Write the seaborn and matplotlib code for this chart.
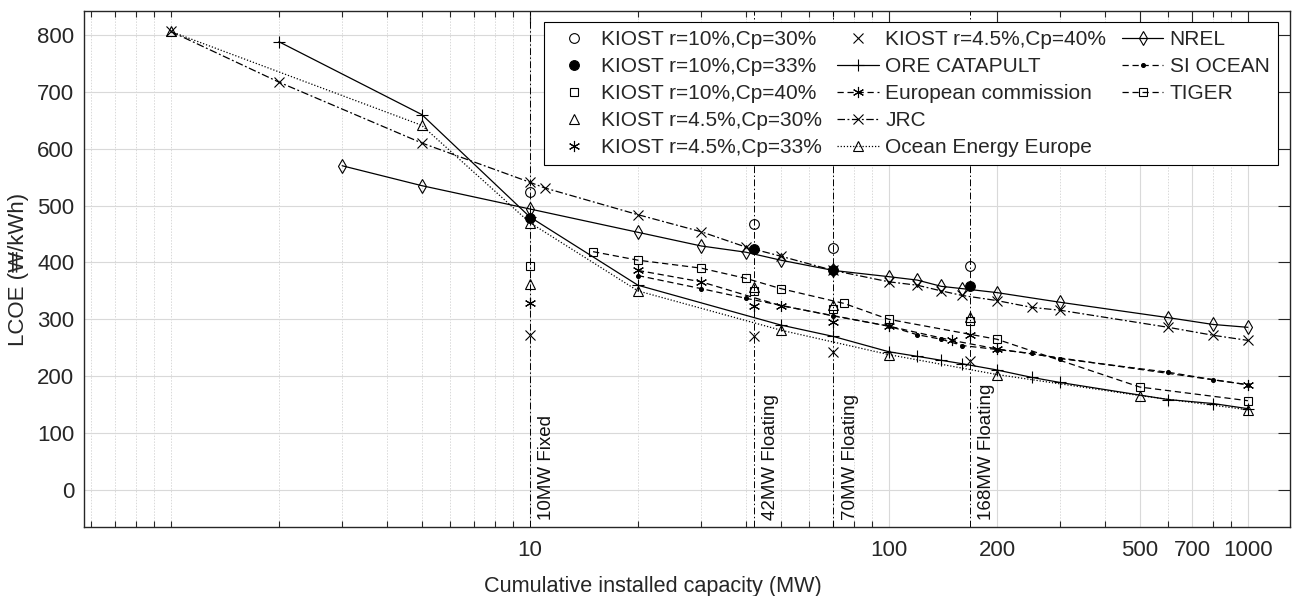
import numpy as np
import pandas as pd
import matplotlib
matplotlib.use("Agg")
import matplotlib.pyplot as plt
from matplotlib.lines import Line2D
from matplotlib.ticker import FixedLocator, LogLocator, NullFormatter, FixedFormatter
import seaborn as sns

# ---------------- data ----------------
kiost_x = [10, 42, 70, 168]
kiost_r10_cp30 = [524, 467, 425, 394]
kiost_r10_cp33 = [478, 424, 386, 358]
kiost_r10_cp40 = [393, 350, 318, 297]
kiost_r45_cp30 = [363, 357, 326, 305]
kiost_r45_cp33 = [328, 324, 295, 273]
kiost_r45_cp40 = [272, 270, 243, 226]

ore_x = [2, 5, 10, 20, 50, 70, 100, 120, 140, 160, 200, 250, 300, 600, 800, 1000]
ore_y = [788, 660, 480, 360, 290, 270, 243, 235, 228, 222, 211, 198, 189, 159, 152, 143]

ec_x = [20, 30, 50, 100, 150, 200, 1000]
ec_y = [386, 366, 324, 288, 263, 248, 185]

jrc_x = [1, 2, 5, 10, 11, 20, 30, 40, 50, 70, 100, 120, 140, 160, 200, 250, 300, 600, 800, 1000]
jrc_y = [806, 717, 610, 541, 531, 484, 454, 427, 411, 386, 366, 360, 350, 342, 333, 321, 316, 286, 272, 263]

oee_x = [1, 5, 10, 20, 50, 100, 200, 500, 1000]
oee_y = [806, 641, 470, 350, 281, 238, 203, 166, 141]

nrel_x = [3, 5, 10, 20, 30, 40, 50, 70, 100, 120, 140, 160, 200, 300, 600, 800, 1000]
nrel_y = [570, 535, 494, 453, 429, 418, 404, 386, 375, 369, 358, 354, 347, 330, 303, 291, 286]

si_x = [20, 30, 40, 70, 100, 120, 140, 160, 200, 250, 300, 600, 800, 1000]
si_y = [377, 354, 337, 306, 288, 273, 265, 254, 247, 240, 231, 207, 194, 185]

tiger_x = [15, 20, 30, 40, 50, 75, 100, 200, 500, 1000]
tiger_y = [419, 404, 390, 372, 354, 328, 300, 265, 181, 157]

site_x = [10, 42, 70, 168]
site_labels = ["10MW Fixed", "42MW Floating", "70MW Floating", "168MW Floating"]

x_ticks = [10, 100, 200, 500, 700, 1000]
x_tick_labels = ["10", "100", "200", "500", "700", "1000"]
y_ticks = [0, 100, 200, 300, 400, 500, 600, 700, 800]

# ---------------- style ----------------
sns.set_theme(style="white")
plt.rcParams["font.family"] = ["Liberation Sans", "DejaVu Sans"]
plt.rcParams["axes.edgecolor"] = "#262626"

fig = plt.figure(figsize=(12.95, 5.96), dpi=100)
ax = fig.add_axes([84 / 1295, 1 - 527 / 596, (1290 - 84) / 1295, (527 - 11) / 596])
ax.set_xscale("log")

K = "black"
ASTER = (6, 2, 0)

series = [
    # x, y, label, linestyle, marker, ms, facecolor
    (kiost_x, kiost_r10_cp30, "KIOST r=10%,Cp=30%", "none", "o", 7, "none"),
    (kiost_x, kiost_r10_cp33, "KIOST r=10%,Cp=33%", "none", "o", 7, K),
    (kiost_x, kiost_r10_cp40, "KIOST r=10%,Cp=40%", "none", "s", 5.5, "none"),
    (kiost_x, kiost_r45_cp30, "KIOST r=4.5%,Cp=30%", "none", "^", 7.5, "none"),
    (kiost_x, kiost_r45_cp33, "KIOST r=4.5%,Cp=33%", "none", ASTER, 8, "none"),
    (kiost_x, kiost_r45_cp40, "KIOST r=4.5%,Cp=40%", "none", "x", 6.5, "none"),
    (ore_x, ore_y, "ORE CATAPULT", "-", "+", 9, "none"),
    (ec_x, ec_y, "European commission", (0, (5, 3)), ASTER, 8, "none"),
    (jrc_x, jrc_y, "JRC", (0, (6, 2, 1.5, 2)), "x", 6.5, "none"),
    (oee_x, oee_y, "Ocean Energy Europe", (0, (1, 1.5)), "^", 7.5, "none"),
    (nrel_x, nrel_y, "NREL", "-", "d", 7, "none"),
    (si_x, si_y, "SI OCEAN", (0, (5, 3)), "o", 2.8, K),
    (tiger_x, tiger_y, "TIGER", (0, (5, 3)), "s", 5.5, "none"),
]

handles = []
labels = []
for xs, ys, lab, ls, mk, ms, fc in series:
    df = pd.DataFrame({"x": xs, "y": ys})
    n_before = len(ax.lines)
    sns.lineplot(data=df, x="x", y="y", ax=ax, color=K, linestyle=ls,
                 linewidth=0.9, marker=mk, markersize=ms,
                 markerfacecolor=fc, markeredgecolor=K, markeredgewidth=0.8,
                 errorbar=None, legend=False)
    line = ax.lines[n_before]
    handles.append(line)
    labels.append(lab)

# blank slots so the legend fills 5 + 5 + 3 like the original
for _ in range(2):
    handles.append(Line2D([], [], linestyle="none", marker="none"))
    labels.append("")

# vertical reference lines and labels
for sx, st in zip(site_x, site_labels):
    ax.axvline(sx, color=K, linestyle=(0, (7, 2.5, 1.5, 2.5)), linewidth=0.7, zorder=1)
    ax.text(sx * 1.055, -53, st, rotation=90, ha="left", va="bottom",
            fontsize=13.5, color="#111111")

# axes limits and ticks
ax.set_xlim(0.573, 1310)
ax.set_ylim(-65, 842)
ax.xaxis.set_major_locator(FixedLocator(x_ticks))
ax.xaxis.set_major_formatter(FixedFormatter(x_tick_labels))
ax.xaxis.set_minor_locator(LogLocator(base=10, subs=np.arange(1, 10), numticks=30))
ax.xaxis.set_minor_formatter(NullFormatter())
ax.set_yticks(y_ticks)

ax.tick_params(axis="both", which="major", direction="in", length=8.5, width=0.8,
               top=True, right=True, labelsize=16, colors="#262626", pad=7)
ax.tick_params(axis="x", which="minor", direction="in", length=4.3, width=0.8,
               top=True, bottom=True)
ax.tick_params(axis="x", which="major", pad=9)
ax.tick_params(axis="y", which="major", pad=7)

ax.grid(True, which="major", axis="both", color="#d9d9d9", linewidth=0.8, linestyle="-")
ax.grid(True, which="minor", axis="x", color="#d9d9d9", linewidth=0.7, linestyle=(0, (1.5, 1.5)))
ax.set_axisbelow(True)
for sp in ax.spines.values():
    sp.set_linewidth(1.0)
    sp.set_color("#262626")

ax.set_xlabel("Cumulative installed capacity (MW)", fontsize=15.6, color="#262626")
ax.xaxis.set_label_coords((653 - 84) / 1206, -0.095)
ax.set_ylabel("LCOE (\u20a9/kWh)", fontsize=16, color="#262626", labelpad=6)

leg = ax.legend(handles, labels, ncol=3, loc="upper right",
                bbox_to_anchor=(0.990, 0.979), borderaxespad=0,
                fontsize=15, frameon=True, fancybox=False, framealpha=1,
                edgecolor="black", handlelength=2.0, handletextpad=0.3,
                columnspacing=0.75, labelspacing=0.38, borderpad=0.4)
leg.get_frame().set_linewidth(0.8)

fig.savefig("out.png", dpi=100)
